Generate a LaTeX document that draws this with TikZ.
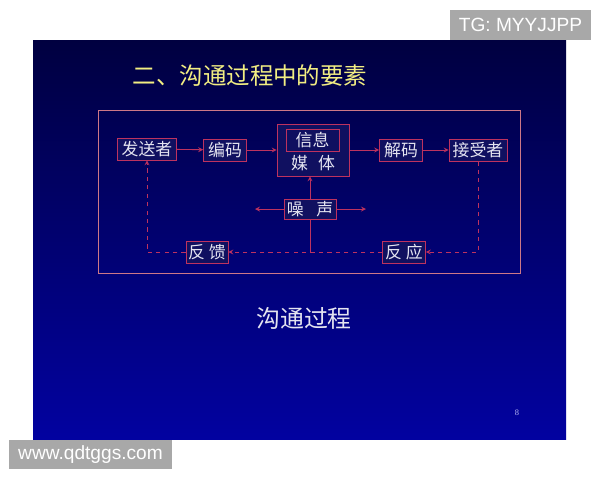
\documentclass[tikz,border=0pt]{standalone}
\usepackage{fontspec}
\setmainfont{Liberation Serif}
\newfontfamily\cjk{Noto Sans CJK SC}
\newfontfamily\wmfont{Liberation Sans}
\usetikzlibrary{shapes.geometric, arrows}
\definecolor{slidetop}{RGB}{0,0,64}
\definecolor{slidebot}{RGB}{2,2,160}
\definecolor{boxfill}{RGB}{16,16,96}
\definecolor{linecol}{RGB}{190,50,95}
\definecolor{framecol}{RGB}{205,120,135}
\definecolor{txtcol}{RGB}{228,228,240}
\definecolor{titlecol}{RGB}{242,238,130}
\definecolor{wmgray}{RGB}{168,168,168}
\tikzstyle{part} = [
  rectangle,
  minimum height=0.55cm,
  inner sep=1pt,
  text centered,
  draw=linecol,
  fill=boxfill,
  text=txtcol,
  font=\cjk\fontsize{12}{14}\selectfont
]
\tikzstyle{watermark} = [
  rectangle,
  fill=wmgray,
  text=white,
  inner sep=0pt,
  font=\wmfont\fontsize{13.6}{16}\selectfont
]
\tikzstyle{arrow} = [linecol,semithick,->,>=stealth]
\tikzstyle{dasharrow} = [linecol,semithick,dashed,->,>=stealth]

\begin{document}
\begin{tikzpicture}[x=0.025cm,y=-0.025cm]
    \useasboundingbox (0,0) rectangle (600,480);

    % Folie und Rahmen
    \shade[top color=slidetop, bottom color=slidebot] (33,40) rectangle (566,439);
    \draw[framecol, semithick] (98,110) rectangle (520,273);

    % Titel
    \node (title) [text=titlecol, font=\cjk\fontsize{16.7}{20}\selectfont] at (250,76) {二、沟通过程中的要素};

    % Bloques principales
    \node (send) [part, minimum width=1.475cm] at (147,149) {发送者};
    \node (enc) [part, minimum width=1.075cm] at (225,150) {编码};
    \node (media) [part, minimum width=1.8cm, minimum height=1.3cm] at (313,150) {};
    \node (info) [part, minimum width=1.325cm] at (312.5,140) {信息};
    \node (mtext) [text=txtcol, font=\cjk\fontsize{12}{14}\selectfont] at (313,163) {媒\hspace{0.6em}体};
    \node (dec) [part, minimum width=1.075cm] at (401,150) {解码};
    \node (recv) [part, minimum width=1.45cm] at (478,150) {接受者};

    % Ruido y retroalimentación
    \node (noise) [part, minimum width=1.3cm, minimum height=0.5cm] at (310,209) {噪\hspace{0.75em}声};
    \node (fb) [part, minimum width=1.05cm] at (207,252) {反\ 馈};
    \node (resp) [part, minimum width=1.075cm] at (404,252) {反\ 应};
    \coordinate (nl) at (255,209);
    \coordinate (nr) at (366,209);
    \coordinate (nd) at (310,252);

    % Flechas lineales
    \draw [arrow] (send) -- (enc);
    \draw [arrow] (enc) -- (media);
    \draw [arrow] (media) -- (dec);
    \draw [arrow] (dec) -- (recv);

    % Flechas del ruido
    \draw [arrow] (noise.north) -- (noise.north |- media.south);
    \draw [arrow] (noise) -- (nl);
    \draw [arrow] (noise) -- (nr);
    \draw [linecol, semithick] (noise) -- (nd);

    % Flechas punteadas de vuelta
    \draw [dasharrow] (recv.south) |- (resp.east);
    \draw [dasharrow] (resp) -- (fb);
    \draw [dasharrow] (fb.west) -| (send.south);

    % Texto inferior
    \node (caption) [text=txtcol, font=\cjk\fontsize{17}{20}\selectfont] at (304,318) {沟通过程};
    \node (page) [text=txtcol!80!blue, font=\fontsize{6}{7}\selectfont] at (517,413) {8};

    % Marcas de agua
    \node (wmtop) [watermark, minimum width=3.5cm, minimum height=0.725cm] at (520.5,25) {TG: MYYJJPP};
    \node (wmbot) [watermark, minimum width=4.05cm, minimum height=0.725cm] at (90.5,454.5) {www.qdtggs.com};

\end{tikzpicture}
\end{document}
